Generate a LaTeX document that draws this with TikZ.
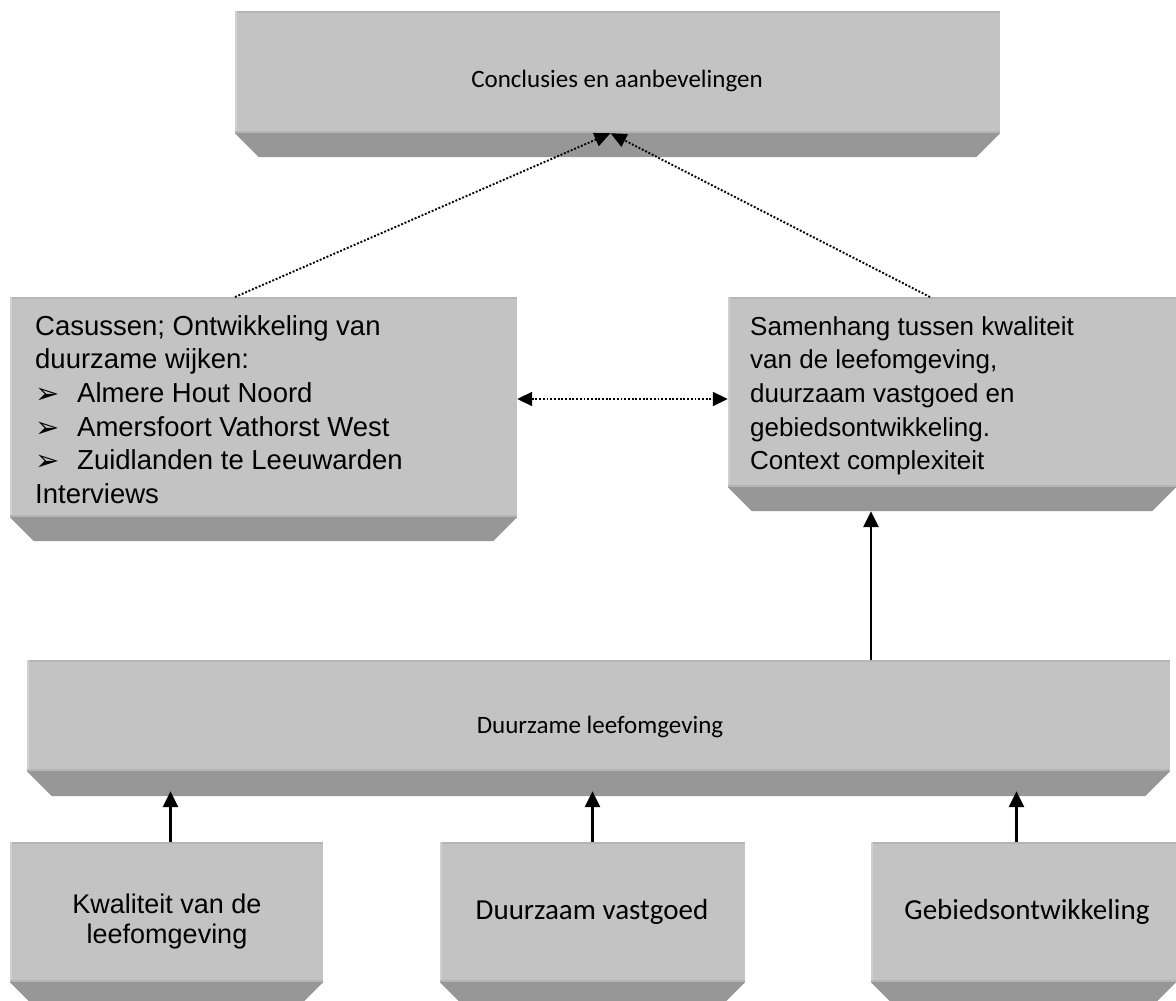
\documentclass[tikz,border=0pt]{standalone}
\usepackage{fontspec}
\setmainfont{Liberation Sans}
\newfontfamily\calfont{Carlito}
\newfontfamily\symfont{DejaVu Sans}
\usetikzlibrary{arrows.meta,calc,fit}

\definecolor{facegray}{HTML}{C3C3C3}
\definecolor{bevelgray}{HTML}{979797}
\definecolor{edgedark}{HTML}{B5B5B5}
\definecolor{edgelight}{HTML}{D0D0D0}

\tikzset{
  face/.style={fill=facegray, draw=none, inner sep=0pt},
  bevel/.style={fill=bevelgray, draw=none},
  dots/.style={black, line width=1.9pt, dash pattern=on 1.9pt off 1.8pt},
  dothead/.style={-{Triangle[length=16pt,width=14pt]}},
  dotboth/.style={{Triangle[length=15pt,width=14pt]}-{Triangle[length=15pt,width=14pt]}},
  solidarrow/.style={black, line width=2.7pt, -{Triangle[length=16pt,width=15pt]}},
  arialtext/.style={align=left, inner sep=0pt, anchor=north west},
  caltext/.style={font=\calfont\fontsize{25}{30}\selectfont, inner sep=0pt, anchor=base},
  calbig/.style={font=\calfont\fontsize{29}{34}\selectfont, inner sep=0pt, anchor=base},
}

% bullet used in the case list
\newcommand\casebullet{\makebox[42pt][l]{\symfont\fontsize{29}{29}\selectfont\raisebox{-1pt}{➢}}}
% strut that fixes the height of a first line
\newcommand\firststrut{\rule{0pt}{20pt}}

% face rectangle with a slanted darker base underneath
% #1 name, #2 x1, #3 y1, #4 x2, #5 y2, #6 base depth
\newcommand\bevelbox[6]{%
  \node[face, fit={(#2,#3) (#4,#5)}] (#1) {};
  \fill[bevel] (#1.south west) -- (#1.south east) -- ++(-#6,#6) -- ($(#1.south west)+(#6,#6)$) -- cycle;
  \fill[edgedark] (#1.north west) rectangle ($(#1.north east)+(0,2.5)$);
  \fill[edgelight] (#1.north west) rectangle ($(#1.south west)+(2.5,0)$);
  \fill[edgedark] (#1.south west) rectangle ($(#1.south east)+(0,-2.5)$);
  \coordinate (#1-b) at ($(#1.south)+(0,#6)$);
}

\begin{document}
\begin{tikzpicture}[x=1pt, y=-1pt]
  \useasboundingbox (0,0) rectangle (1176,1001);
  \fill[white] (0,0) rectangle (1176,1001);

  % boxes
  \bevelbox{top}{235}{11}{1000}{133}{24}
  \bevelbox{cases}{10}{297}{517}{517}{24}
  \bevelbox{link}{728}{297}{1176}{487}{24}
  \bevelbox{wide}{27}{660}{1170}{771}{25}
  \bevelbox{qual}{10}{842}{323}{982}{24}
  \bevelbox{prop}{440}{842}{745}{982}{24}
  \bevelbox{area}{871}{842}{1176}{982}{24}

  % texts
  \node[caltext] (ttop) at (617,87) {Conclusies en aanbevelingen};
  \node[arialtext, font=\fontsize{27.5}{33.6}\selectfont] (tcases) at (35,315) {%
    \firststrut Casussen; Ontwikkeling van\\
    duurzame wijken:\\
    \casebullet Almere Hout Noord\\
    \casebullet Amersfoort Vathorst West\\
    \casebullet Zuidlanden te Leeuwarden\\
    Interviews};
  \node[arialtext, font=\fontsize{26}{33.6}\selectfont] (tlink) at (750,315) {%
    \firststrut Samenhang tussen kwaliteit\\
    van de leefomgeving,\\
    duurzaam vastgoed en\\
    gebiedsontwikkeling.\\
    Context complexiteit};
  \node[caltext] (twide) at (600,733) {Duurzame leefomgeving};
  \node[font=\fontsize{27}{30}\selectfont, align=center, inner sep=0pt, anchor=north] (tqual) at (167,893)
    {\firststrut Kwaliteit van de\\leefomgeving};
  \node[calbig] (tprop) at (592,919) {Duurzaam vastgoed};
  \node[calbig] (tarea) at (1027,919) {Gebiedsontwikkeling};

  % connectors
  \coordinate (c1) at (235,297);
  \coordinate (c2) at (930,297);
  \coordinate (up1) at (871,0);
  \draw[dots, dothead] (c1) -- ([xshift=-7pt]top.south);
  \draw[dots, dothead] (c2) -- ([xshift=-7pt]top.south);
  \draw[dots, dotboth] ([yshift=8pt]cases.east) -- ([yshift=8pt]cases.east -| link.west);
  \draw[solidarrow] (wide.north -| up1) -- (link-b -| up1);
  \draw[solidarrow] ([xshift=4pt]qual.north) -- ([xshift=4pt,yshift=5pt]qual.north |- wide-b);
  \draw[solidarrow] (prop.north) -- ([yshift=5pt]prop.north |- wide-b);
  \draw[solidarrow] ([xshift=-7pt]area.north) -- ([xshift=-7pt,yshift=5pt]area.north |- wide-b);
\end{tikzpicture}
\end{document}
